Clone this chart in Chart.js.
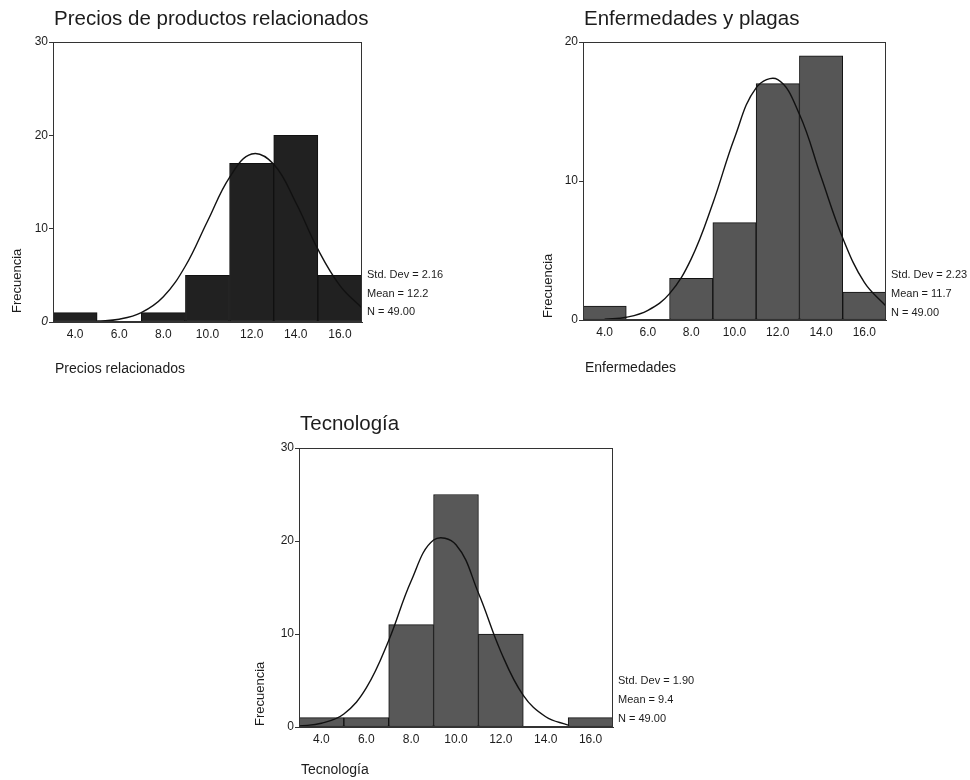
<!DOCTYPE html>
<html>
<head>
<meta charset="utf-8">
<script src="https://cdn.jsdelivr.net/npm/chart.js@4/dist/chart.umd.min.js"></script>
<style>
body { margin: 0; background: #fff; width: 970px; height: 780px; position: relative; overflow: hidden; }
canvas { position: absolute; }
</style>
</head>
<body>
<canvas id="precios" width="460" height="395" style="left:0;top:0"></canvas>
<canvas id="enfermedades" width="440" height="395" style="left:530px;top:0"></canvas>
<canvas id="tecnologia" width="480" height="385" style="left:240px;top:395px"></canvas>
<script>
// bins of width 2 centred on these values
var binCenters = [4, 6, 8, 10, 12, 14, 16];
var xTicks = [4, 6, 8, 10, 12, 14, 16];
var curveX = [3, 4, 5, 6, 7, 8, 9, 10, 11, 12, 13, 14, 15, 16, 17];

var preciosFreq = [1, 0, 1, 5, 17, 20, 5];
var enfermedadesFreq = [1, 0, 3, 7, 17, 19, 2];
var tecnologiaFreq = [1, 1, 11, 25, 10, 0, 1];

// normal curve
var preciosCurve = [null, null, 0.1, 0.3, 1.0, 2.7, 6.0, 10.8, 15.5, 18.0, 16.9, 12.8, 7.8, 3.9, 1.5];
var enfermedadesCurve = [null, 0.05, 0.2, 0.7, 1.9, 4.4, 8.4, 13.1, 16.7, 17.3, 14.8, 10.3, 5.9, 2.7, 1.0];
var tecnologiaCurve = [0.1, 0.4, 1.4, 4.2, 9.3, 15.7, 20.1, 19.6, 14.4, 8.1, 3.4, 1.1, 0.2, null, null];

var preciosStats = ['Std. Dev = 2.16', 'Mean = 12.2', 'N = 49.00'];
var enfermedadesStats = ['Std. Dev = 2.23', 'Mean = 11.7', 'N = 49.00'];
var tecnologiaStats = ['Std. Dev = 1.90', 'Mean = 9.4', 'N = 49.00'];

var FONT = '"Liberation Sans", Arial, sans-serif';
var INK = '#1c1c1c';

var textos = {
    id: 'textos',
    afterDraw: function (chart, args, o) {
        var ctx = chart.ctx, a = chart.chartArea;
        ctx.save();
        ctx.strokeStyle = '#333';
        ctx.lineWidth = 1;
        ctx.strokeRect(a.left + 0.5, a.top + 0.5, a.right - a.left - 1, a.bottom - a.top - 1);
        ctx.fillStyle = INK;
        ctx.textAlign = 'left';
        ctx.textBaseline = 'alphabetic';
        ctx.font = '20.5px ' + FONT;
        ctx.fillText(o.title, a.left + 1, a.top + o.titleDy);
        ctx.font = '14px ' + FONT;
        ctx.fillText(o.xTitle, a.left + 2, a.bottom + o.xTitleDy);
        ctx.font = '11px ' + FONT;
        o.stats.forEach(function (t, i) {
            ctx.fillText(t, a.right + 5, a.bottom + o.statsDy[i]);
        });
        ctx.save();
        ctx.translate(a.left + o.yTitleDx, a.bottom + o.yTitleDy);
        ctx.rotate(-Math.PI / 2);
        ctx.textBaseline = 'middle';
        ctx.font = '13px ' + FONT;
        ctx.fillText('Frecuencia', 0, 0);
        ctx.restore();
        ctx.restore();
    }
};

function histograma(id, cfg) {
    var bars = binCenters.map(function (x, i) { return {x: x, y: cfg.freq[i]}; });
    var curve = curveX.map(function (x, i) { return {x: x, y: cfg.curve[i]}; });
    return new Chart(document.getElementById(id), {
        type: 'bar',
        data: {
            datasets: [
                {
                    type: 'line',
                    data: curve,
                    borderColor: '#111',
                    borderWidth: 1.4,
                    pointRadius: 0,
                    tension: 0.4,
                    fill: false,
                    order: 0
                },
                {
                    data: bars,
                    backgroundColor: cfg.color,
                    borderColor: '#111',
                    borderWidth: 1,
                    borderSkipped: false,
                    barPercentage: 1,
                    categoryPercentage: 1,
                    order: 1
                }
            ]
        },
        options: {
            responsive: false,
            animation: false,
            layout: {padding: cfg.padding},
            plugins: {
                legend: {display: false},
                tooltip: {enabled: false},
                textos: cfg.text
            },
            scales: {
                x: {
                    type: 'linear',
                    min: 3,
                    max: 17,
                    offset: false,
                    afterBuildTicks: function (s) {
                        s.ticks = xTicks.map(function (v) { return {value: v}; });
                    },
                    afterFit: function (s) { s.height = cfg.xHeight; },
                    grid: {display: false, drawTicks: false},
                    border: {display: true, color: '#333'},
                    ticks: {
                        padding: 5,
                        color: INK,
                        maxRotation: 0,
                        font: {family: FONT, size: 12},
                        callback: function (v) { return v.toFixed(1); }
                    }
                },
                y: {
                    min: 0,
                    max: cfg.yMax,
                    afterFit: function (s) { s.width = 45; },
                    grid: {drawOnChartArea: false, drawTicks: true, tickLength: 4, color: '#333'},
                    border: {display: true, color: '#333'},
                    ticks: {
                        stepSize: 10,
                        padding: 1,
                        color: INK,
                        font: function (c) {
                            var it = cfg.italicZero && c.tick && c.tick.value === 0;
                            return {family: FONT, size: 12, style: it ? 'italic' : 'normal'};
                        }
                    }
                }
            }
        },
        plugins: [textos]
    });
}

histograma('precios', {
    freq: preciosFreq,
    curve: preciosCurve,
    color: '#212121',
    yMax: 30,
    italicZero: true,
    padding: {left: 8, top: 42, right: 98, bottom: 0},
    xHeight: 73,
    text: {
        title: 'Precios de productos relacionados', titleDy: -17,
        xTitle: 'Precios relacionados', xTitleDy: 51,
        yTitleDx: -36, yTitleDy: -9,
        stats: preciosStats, statsDy: [-44, -25, -7]
    }
});

histograma('enfermedades', {
    freq: enfermedadesFreq,
    curve: enfermedadesCurve,
    color: '#565656',
    yMax: 20,
    padding: {left: 8, top: 42, right: 84, bottom: 0},
    xHeight: 75,
    text: {
        title: 'Enfermedades y plagas', titleDy: -17,
        xTitle: 'Enfermedades', xTitleDy: 52,
        yTitleDx: -35, yTitleDy: -2,
        stats: enfermedadesStats, statsDy: [-42, -23, -4]
    }
});

histograma('tecnologia', {
    freq: tecnologiaFreq,
    curve: tecnologiaCurve,
    color: '#585858',
    yMax: 30,
    padding: {left: 14, top: 53, right: 107, bottom: 0},
    xHeight: 53,
    text: {
        title: 'Tecnología', titleDy: -18,
        xTitle: 'Tecnología', xTitleDy: 47,
        yTitleDx: -39, yTitleDy: -1,
        stats: tecnologiaStats, statsDy: [-43, -24, -5]
    }
});
</script>
</body>
</html>
